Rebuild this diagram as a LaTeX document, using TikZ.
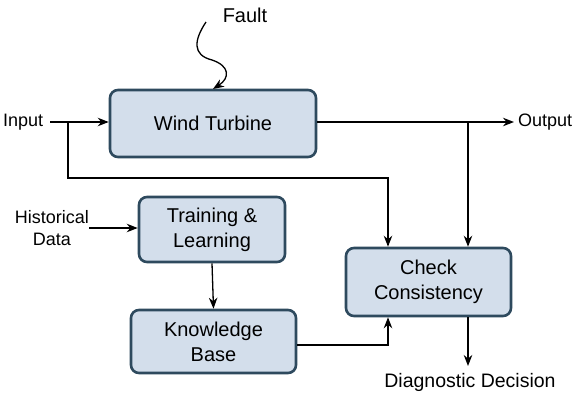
\documentclass[tikz,border=0pt]{standalone}
\usepackage{fontspec}
\setmainfont{Liberation Sans}
\usetikzlibrary{arrows.meta}
\definecolor{boxfill}{HTML}{D3DEEB}
\definecolor{boxline}{HTML}{2E4A5E}
\begin{document}
\begin{tikzpicture}[x=1pt,y=-1pt,
  blk/.style={draw=boxline,fill=boxfill,line width=2.6pt,rounded corners=8pt,inner sep=0pt,align=center,font=\fontsize{20}{25}\selectfont},
  lbl/.style={inner sep=0pt,align=center,font=\fontsize{18}{22.5}\selectfont},
  conn/.style={line width=1.3pt,-{Stealth[length=11pt,width=8.5pt]}}]
\useasboundingbox (0,0) rectangle (575,394);
\node[blk,minimum width=206pt,minimum height=67pt] (wt) at (213,123.5) {Wind Turbine};
\node[blk,minimum width=146pt,minimum height=65pt] (tl) at (212,229.5) {Training \&\\Learning};
\node[blk,minimum width=165pt,minimum height=63pt] (kb) at (213.5,341.5) {Knowledge\\Base};
\node[blk,minimum width=165pt,minimum height=68pt] (cc) at (428.5,282) {Check\\Consistency};
\node[lbl,font=\fontsize{20}{24}\selectfont] (fault) at (245,15) {Fault};
\node[lbl,anchor=west] (input) at (3,122) {Input};
\node[lbl,anchor=west] (output) at (518,122) {Output};
\node[lbl] (hist) at (52,228) {Historical\\Data};
\node[lbl,font=\fontsize{19.5}{24}\selectfont] (diag) at (470,382) {Diagnostic Decision};
\coordinate (inS) at (50,122);
\coordinate (br1) at (68,122);
\coordinate (br1b) at (68,178);
\coordinate (br1c) at (388,178);
\coordinate (br2) at (468,122);
\coordinate (outE) at (514,122);
\coordinate (hS) at (89,228);
\coordinate (kbC) at (388,345);
\coordinate (dE) at (468,366);
\coordinate (fS) at (206,22);
\draw[conn] (inS) -- (wt.west |- inS);
\draw[conn] (br1) -- (br1b) -- (br1c) -- (br1c |- cc.north);
\draw[conn] (wt.east |- outE) -- (outE);
\draw[conn] (br2) -- (br2 |- cc.north);
\draw[conn] (hS) -- (tl.west |- hS);
\draw[conn] (tl.south) -- (kb.north);
\draw[conn] (kb.east |- kbC) -- (kbC) -- (kbC |- cc.south);
\draw[conn] (cc.south -| dE) -- (dE);
\draw[conn] (fS) .. controls (194,40) and (192,55) .. (212,60) .. controls (230,66) and (230,78) .. (213,89);
\end{tikzpicture}
\end{document}
